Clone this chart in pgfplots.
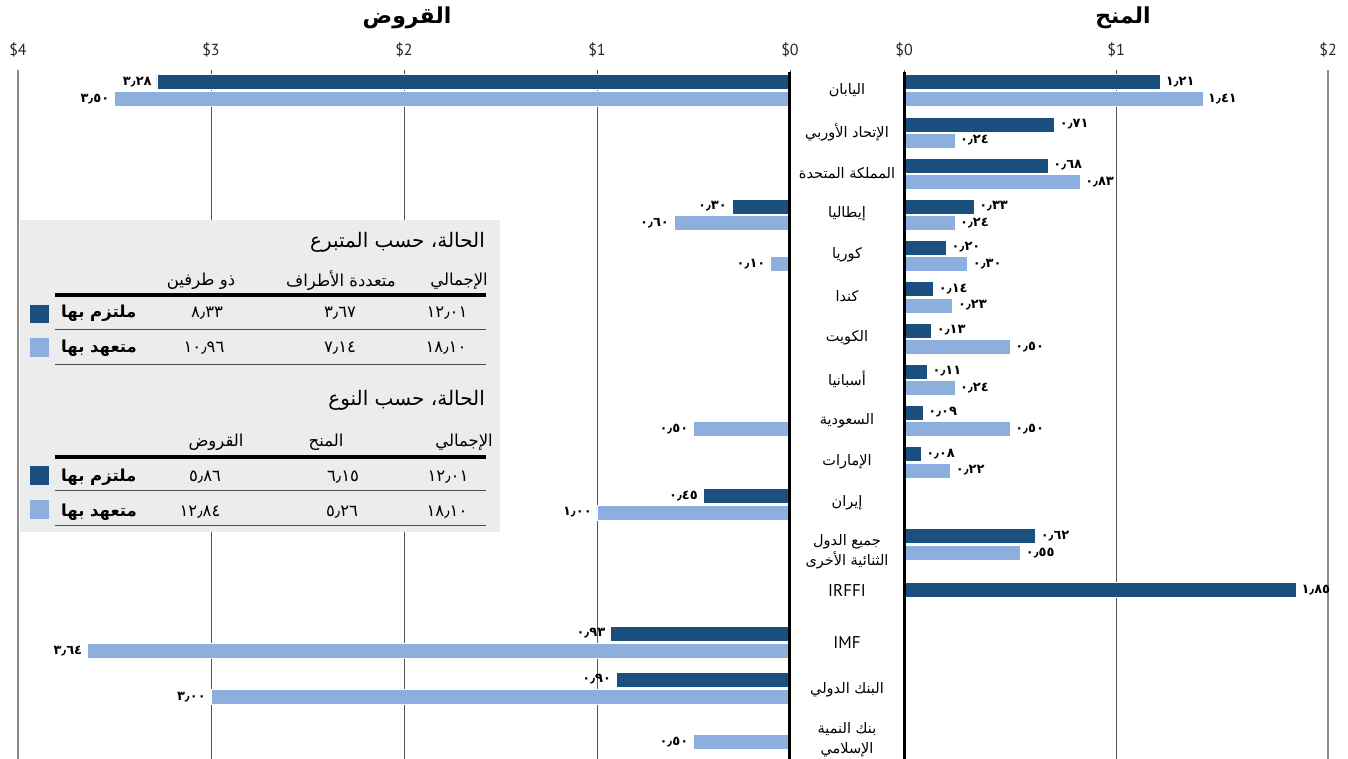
\documentclass[border=0pt]{standalone}
\usepackage{fontspec}
\usepackage{pgfplots}
\pgfplotsset{compat=1.18}
\setmainfont{PT Sans}
\newfontfamily\arabicfont[Script=Arabic]{DejaVu Sans}
\TeXXeTstate=1
\newcommand\ar[1]{{\arabicfont\beginR #1\endR}}
\definecolor{dk}{HTML}{1B4F7D}
\definecolor{lt}{HTML}{8CAFDD}
\definecolor{boxbg}{HTML}{ECECEC}
\definecolor{grd}{HTML}{555555}
\definecolor{edge}{HTML}{8C8C8C}
\begin{document}
\begin{tikzpicture}
\useasboundingbox (0,0) rectangle (1348pt,-759pt);
\pgfplotsset{
 panel/.style={
  scale only axis, height=689pt, ymin=70, ymax=759, y dir=reverse,
  axis line style={draw=none}, ytick=\empty, major tick length=0pt,
  xticklabel pos=upper, xmajorgrids, grid style={grd, line width=0.7pt},
  xticklabel style={anchor=base, yshift=15pt, font=\fontsize{16}{16}\selectfont, text=black!85},
  xbar, bar width=15pt, bar shift=0pt, clip=false,
  point meta=explicit symbolic, nodes near coords,
  nodes near coords style={font=\arabicfont\bfseries\fontsize{13}{13}\selectfont, inner sep=1pt, text=black},
 },
 bardk/.style={fill=dk, draw=white, line width=0.6pt},
 barlt/.style={fill=lt, draw=white, line width=0.6pt},
}
% ---------- loans (left) ----------
\begin{axis}[panel, at={(18pt,-70pt)}, anchor=north west, width=772pt,
  xmin=0, xmax=4, x dir=reverse, xtick={0,1,2,3,4}, xticklabels={\$0,\$1,\$2,\$3,\$4},
  nodes near coords style={anchor=east, xshift=-4pt}]
\draw[edge, line width=2pt] (axis cs:4,70) -- (axis cs:4,759);
\addplot[bardk] coordinates {
 (3.28,82) [٣٫٢٨]
 (0.30,206.5) [٠٫٣٠]
 (0.45,496) [٠٫٤٥]
 (0.93,633.5) [٠٫٩٣]
 (0.90,679.5) [٠٫٩٠]
};
\addplot[barlt] coordinates {
 (3.50,99) [٣٫٥٠]
 (0.60,223) [٠٫٦٠]
 (0.10,264) [٠٫١٠]
 (0.50,429) [٠٫٥٠]
 (1.00,512.5) [١٫٠٠]
 (3.64,651) [٣٫٦٤]
 (3.00,697) [٣٫٠٠]
 (0.50,742) [٠٫٥٠]
};
\draw[black, line width=3pt] (axis cs:0,72) -- (axis cs:0,759);
\end{axis}
% ---------- grants (right) ----------
\begin{axis}[panel, at={(904pt,-70pt)}, anchor=north west, width=424pt,
  xmin=0, xmax=2, xtick={0,1,2}, xticklabels={\$0,\$1,\$2},
  nodes near coords style={anchor=west, xshift=4pt}]
\draw[edge, line width=2pt] (axis cs:2,70) -- (axis cs:2,759);
\addplot[bardk] coordinates {
 (1.21,82) [١٫٢١]
 (0.71,124.5) [٠٫٧١]
 (0.68,165.5) [٠٫٦٨]
 (0.33,206.5) [٠٫٣٣]
 (0.20,247.5) [٠٫٢٠]
 (0.14,289) [٠٫١٤]
 (0.13,330.5) [٠٫١٣]
 (0.11,371.5) [٠٫١١]
 (0.09,412.5) [٠٫٠٩]
 (0.08,454) [٠٫٠٨]
 (0.62,536) [٠٫٦٢]
 (1.85,590) [١٫٨٥]
};
\addplot[barlt] coordinates {
 (1.41,99) [١٫٤١]
 (0.24,140.5) [٠٫٢٤]
 (0.83,182) [٠٫٨٣]
 (0.24,223) [٠٫٢٤]
 (0.30,264) [٠٫٣٠]
 (0.23,305.5) [٠٫٢٣]
 (0.50,347) [٠٫٥٠]
 (0.24,388) [٠٫٢٤]
 (0.50,429) [٠٫٥٠]
 (0.22,470.5) [٠٫٢٢]
 (0.55,553) [٠٫٥٥]
};
\draw[black, line width=3pt] (axis cs:0,72) -- (axis cs:0,759);
\end{axis}
% ---------- texts ----------
\begin{scope}[x=1pt,y=-1pt]
\node[font=\fontsize{22}{22}\selectfont\bfseries] at (407,18) {\ar{القروض}};
\node[font=\fontsize{22}{22}\selectfont\bfseries] at (1123,18) {\ar{المنح}};
\begin{scope}[every node/.style={font=\fontsize{14.5}{20}\selectfont, align=center, inner sep=0pt}]
\node at (847,90) {\ar{اليابان}};
\node at (847,132) {\ar{الإتحاد الأوربي}};
\node at (847,173) {\ar{المملكة المتحدة}};
\node at (847,214) {\ar{إيطاليا}};
\node at (847,255) {\ar{كوريا}};
\node at (847,296) {\ar{كندا}};
\node at (847,338) {\ar{الكويت}};
\node at (847,379) {\ar{أسبانيا}};
\node at (847,421) {\ar{السعودية}};
\node at (847,462) {\ar{الإمارات}};
\node at (847,503) {\ar{إيران}};
\node at (847,552) {\ar{جميع الدول}\\\ar{الثنائية الأخرى}};
\node[font=\fontsize{17}{17}\selectfont] at (847,590) {IRFFI};
\node[font=\fontsize{17}{17}\selectfont] at (847,643) {IMF};
\node at (847,690) {\ar{البنك الدولي}};
\node at (847,740) {\ar{بنك النمية}\\\ar{الإسلامي}};
\end{scope}
% ---------- inset ----------
\fill[boxbg] (20,220) rectangle (500,532);
% table 1
\node[anchor=east, font=\fontsize{20}{20}\selectfont, inner sep=0pt] at (485,242) {\ar{الحالة، حسب المتبرع}};
\begin{scope}[every node/.style={font=\fontsize{16.5}{17}\selectfont, inner sep=0pt}]
\node[anchor=east] at (488,281) {\ar{الإجمالي}};
\node at (341,281) {\ar{متعددة الأطراف}};
\node at (201,281) {\ar{ذو طرفين}};
\end{scope}
\draw[black, line width=3.5pt] (55,295) -- (486,295);
\draw[black!70, line width=0.8pt] (55,329) -- (486,329);
\draw[black!70, line width=0.8pt] (55,364) -- (486,364);
\fill[dk] (30,305) rectangle (49,323);
\fill[lt] (30,338) rectangle (49,357);
\begin{scope}[every node/.style={font=\arabicfont\fontsize{16.5}{17}\selectfont, inner sep=0pt}]
\node[anchor=west, font=\fontsize{16.5}{17}\selectfont\bfseries] at (61,313) {\ar{ملتزم بها}};
\node[anchor=west, font=\fontsize{16.5}{17}\selectfont\bfseries] at (61,348) {\ar{متعهد بها}};
\node at (207,313) {٨٫٣٣};
\node at (340,313) {٣٫٦٧};
\node at (447,313) {١٢٫٠١};
\node at (204,348) {١٠٫٩٦};
\node at (340,348) {٧٫١٤};
\node at (446,348) {١٨٫١٠};
\end{scope}
% table 2
\node[anchor=east, font=\fontsize{20}{20}\selectfont, inner sep=0pt] at (485,400) {\ar{الحالة، حسب النوع}};
\begin{scope}[every node/.style={font=\fontsize{16.5}{17}\selectfont, inner sep=0pt}]
\node[anchor=east] at (493,442) {\ar{الإجمالي}};
\node at (326,442) {\ar{المنح}};
\node at (216,442) {\ar{القروض}};
\end{scope}
\draw[black, line width=3.5pt] (55,457) -- (486,457);
\draw[black!70, line width=0.8pt] (55,490) -- (486,490);
\draw[black!70, line width=0.8pt] (55,525) -- (486,525);
\fill[dk] (30,466) rectangle (49,485);
\fill[lt] (30,500) rectangle (49,519);
\begin{scope}[every node/.style={font=\arabicfont\fontsize{16.5}{17}\selectfont, inner sep=0pt}]
\node[anchor=west, font=\fontsize{16.5}{17}\selectfont\bfseries] at (61,477) {\ar{ملتزم بها}};
\node[anchor=west, font=\fontsize{16.5}{17}\selectfont\bfseries] at (61,512) {\ar{متعهد بها}};
\node at (205,477) {٥٫٨٦};
\node at (343,477) {٦٫١٥};
\node at (448,477) {١٢٫٠١};
\node at (200,512) {١٢٫٨٤};
\node at (342,512) {٥٫٢٦};
\node at (447,512) {١٨٫١٠};
\end{scope}
\end{scope}
\end{tikzpicture}
\end{document}
